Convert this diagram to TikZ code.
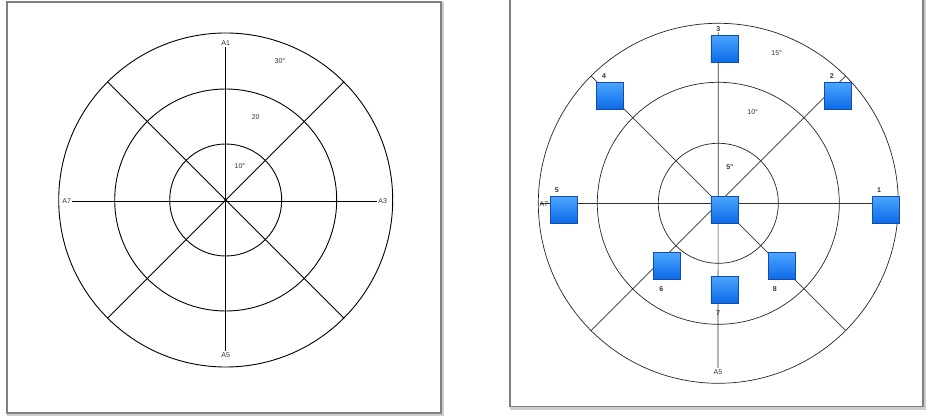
\documentclass[tikz,border=0pt]{standalone}
\usepackage{fontspec}
\setmainfont{Liberation Sans}
\usetikzlibrary{calc}
\definecolor{boxtop}{RGB}{75,165,255}
\definecolor{boxbot}{RGB}{10,105,230}
\definecolor{boxedge}{RGB}{20,75,175}
\begin{document}
\begin{tikzpicture}[x=1pt,y=-1pt,
  frameshadow/.style={draw=black!20,line width=3pt},
  framebox/.style={draw=black!50,fill=white,line width=1.1pt},
  ringL/.style={draw=black,line width=0.9pt},
  ringR/.style={draw=black!85,line width=0.7pt},
  axL/.style={draw=black,line width=0.9pt},
  axR/.style={draw=black!80,line width=0.7pt},
  lab/.style={font=\fontsize{7}{8}\selectfont,inner sep=1pt,text=black!80},
  bluebox/.style={minimum size=27pt,inner sep=0pt,draw=boxedge,line width=0.6pt,
    top color=boxtop,bottom color=boxbot}
]
\useasboundingbox (0,0) rectangle (928,419);
% frames
\draw[frameshadow] (8.5,4) rectangle (442.5,414.5);
\draw[framebox] (7,2) rectangle (441,413);
\draw[frameshadow] (511.5,-4) rectangle (924.5,408);
\draw[framebox] (510,-6) rectangle (923,406.5);

% ---------- left panel ----------
\coordinate (L) at (225.7,200);
\draw[ringL] (L) circle[radius=167];
\draw[ringL] (L) circle[radius=111];
\draw[ringL] (L) circle[radius=56];
\node[lab] (A1) at (225.7,43.5) {A1};
\node[lab] (A3) at (382.7,201) {A3};
\node[lab] (A7) at (66.7,201) {A7};
\node[lab] (A5) at (225.7,355) {A5};
\draw[axL] (A1) -- (A5);
\draw[axL] (A7) -- (A3);
\coordinate (Ld1) at ($(L)+(-118.1,-118.1)$);
\coordinate (Ld2) at ($(L)+(118.1,118.1)$);
\coordinate (Ld3) at ($(L)+(118.1,-118.1)$);
\coordinate (Ld4) at ($(L)+(-118.1,118.1)$);
\draw[axL] (Ld1) -- (Ld2);
\draw[axL] (Ld3) -- (Ld4);
\fill (L) circle[radius=1.6];
\node[lab] (t30) at (280,61) {30°};
\node[lab] (t20) at (255.7,116.7) {20};
\node[lab] (t10) at (240,166) {10°};

% ---------- right panel ----------
\coordinate (R) at (718.3,203.3);
\draw[ringR] (R) circle[radius=180];
\draw[ringR] (R) circle[radius=121];
\draw[ringR] (R) circle[radius=60];
\node[lab] (n3) at (718.3,29) {\textbf{3}};
\node[lab] (A5r) at (718,371.7) {A5};
\coordinate (Rw) at (540,203.3);
\coordinate (Re) at (880,203.3);
\draw[axR] (n3) -- (A5r);
\draw[axR] (Rw) -- (Re);
\coordinate (Rd1) at ($(R)+(-127.3,-127.3)$);
\coordinate (Rd2) at ($(R)+(127.3,127.3)$);
\coordinate (Rd3) at ($(R)+(127.3,-127.3)$);
\coordinate (Rd4) at ($(R)+(-127.3,127.3)$);
\draw[axR] (Rd1) -- (Rd2);
\draw[axR] (Rd3) -- (Rd4);
% boxes
\node[bluebox] (b3) at (724.3,48.7) {};
\node[bluebox] (b4) at (610,96.3) {};
\node[bluebox] (b2) at (838,96.3) {};
\node[bluebox] (b5) at (563.5,210.3) {};
\node[bluebox] (bc) at (724.3,210) {};
\node[bluebox] (b1) at (886,210) {};
\node[bluebox] (b6) at (666.5,266.3) {};
\node[bluebox] (b8) at (781.5,266.3) {};
\node[bluebox] (b7) at (724.3,289.7) {};
\node[lab] (A7r) at (544,204) {A7};
\node[lab] (n4) at (604,76) {\textbf{4}};
\node[lab] (n2) at (831.7,76) {\textbf{2}};
\node[lab] (n5) at (556.7,190) {\textbf{5}};
\node[lab] (n1) at (879,190) {\textbf{1}};
\node[lab] (n6) at (661.3,289.3) {\textbf{6}};
\node[lab] (n8) at (774.7,289.3) {\textbf{8}};
\node[lab] (n7) at (718,313.3) {\textbf{7}};
\node[lab] (t15) at (776.7,52.7) {15°};
\node[lab] (t10r) at (752.7,112.3) {10°};
\node[lab] (t5) at (729.7,166.7) {\textbf{5°}};
\end{tikzpicture}
\end{document}
